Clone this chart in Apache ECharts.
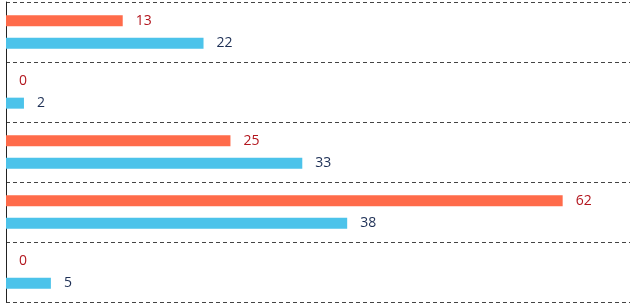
<!DOCTYPE html>
<html>
<head>
<meta charset="utf-8">
<script src="https://cdn.jsdelivr.net/npm/echarts@6/dist/echarts.min.js"></script>
<style>
  html, body { margin: 0; padding: 0; background: #fff; }
  #chart { width: 630px; height: 304px; }
</style>
</head>
<body>
<div id="chart"></div>
<script>
// 数据
var categories = ['A', 'B', 'C', 'D', 'E'];
var orangeValues = [13, 0, 25, 62, 0];
var blueValues = [22, 2, 33, 38, 5];

var chart = echarts.init(document.getElementById('chart'));
var labelFont = '"Open Sans", "Noto Sans", sans-serif';

var option = {
    animation: false,
    grid: { left: 6, right: 0, top: 2, bottom: 2 },
    xAxis: {
        type: 'value',
        min: 0,
        max: 69.5,
        show: false
    },
    yAxis: {
        type: 'category',
        data: categories,
        inverse: true,
        axisLine: { show: true, lineStyle: { color: '#222', width: 1 } },
        axisTick: { show: false },
        axisLabel: { show: false },
        splitLine: {
            show: true,
            lineStyle: { color: '#444', type: [4, 3], width: 1 }
        }
    },
    series: [
        {
            name: 'orange',
            type: 'bar',
            data: orangeValues,
            barWidth: 11,
            barGap: '103%',
            itemStyle: { color: '#ff6b4a' },
            label: {
                show: true,
                position: 'right',
                distance: 13,
                color: '#b3161e',
                fontSize: 14,
                fontFamily: labelFont
            }
        },
        {
            name: 'blue',
            type: 'bar',
            data: blueValues,
            barWidth: 11,
            itemStyle: { color: '#4cc3ea' },
            label: {
                show: true,
                position: 'right',
                distance: 13,
                color: '#1d2f55',
                fontSize: 14,
                fontFamily: labelFont
            }
        }
    ]
};
chart.setOption(option);
</script>
</body>
</html>
